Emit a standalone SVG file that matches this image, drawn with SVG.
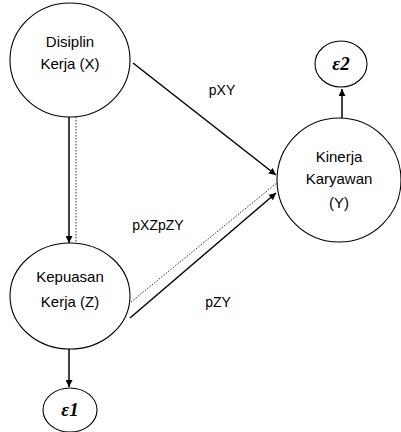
<svg xmlns="http://www.w3.org/2000/svg" width="401" height="432" viewBox="0 0 401 432">
<style>
.node{fill:#fff;stroke:#000;stroke-width:1.1}
.lbl{font-family:"Liberation Sans",Arial,sans-serif;font-size:14px;fill:#000;text-anchor:middle}
.nl{font-size:15px}
.eps{font-family:"Liberation Serif","DejaVu Serif",serif;font-size:19px;font-weight:bold;font-style:italic;fill:#000;text-anchor:middle}
.arr{stroke:#000;stroke-width:1.5;fill:none;marker-end:url(#ah)}
.dot{stroke:#333;stroke-width:1;stroke-dasharray:1.5 1.5;fill:none}
</style>
<defs>
<marker id="ah" viewBox="0 0 10 10" refX="10" refY="5" markerWidth="7" markerHeight="7" markerUnits="userSpaceOnUse" orient="auto">
<path d="M0,0 L10,5 L0,10 z" fill="#000"/>
</marker>
</defs>
<rect width="401" height="432" fill="#fff"/>
<g id="connectors">
<line class="dot" x1="76" y1="117" x2="76" y2="244"/>
<line class="arr" x1="69" y1="117" x2="69" y2="243"/>
<line class="arr" x1="69" y1="348" x2="69" y2="387"/>
<line class="arr" x1="342" y1="119" x2="342" y2="89"/>
<line class="arr" x1="133" y1="63" x2="276" y2="175"/>
<line class="dot" x1="131" y1="302" x2="278" y2="182"/>
<line class="arr" x1="130" y1="318" x2="276" y2="193"/>
<text class="lbl" x="222" y="95">pXY</text>
<text class="lbl" x="158" y="230">pXZpZY</text>
<text class="lbl" x="218" y="307">pZY</text>
</g>
<g id="X">
<ellipse class="node" cx="70" cy="60" rx="60" ry="57"/>
<text class="lbl nl" x="70" y="47">Disiplin</text>
<text class="lbl nl" x="70" y="69">Kerja (X)</text>
</g>
<g id="Z">
<ellipse class="node" cx="70" cy="296" rx="60" ry="53"/>
<text class="lbl nl" x="70" y="282">Kepuasan</text>
<text class="lbl nl" x="70" y="307">Kerja (Z)</text>
</g>
<g id="Y">
<ellipse class="node" cx="339" cy="180" rx="62" ry="62"/>
<text class="lbl nl" x="339" y="162">Kinerja</text>
<text class="lbl nl" x="339" y="184">Karyawan</text>
<text class="lbl nl" x="339" y="208">(Y)</text>
</g>
<g id="e1">
<ellipse class="node" cx="70" cy="410" rx="27" ry="22"/>
<text class="eps" x="70" y="416">ε1</text>
</g>
<g id="e2">
<ellipse class="node" cx="341" cy="64" rx="26" ry="23"/>
<text class="eps" x="341" y="70">ε2</text>
</g>
</svg>
